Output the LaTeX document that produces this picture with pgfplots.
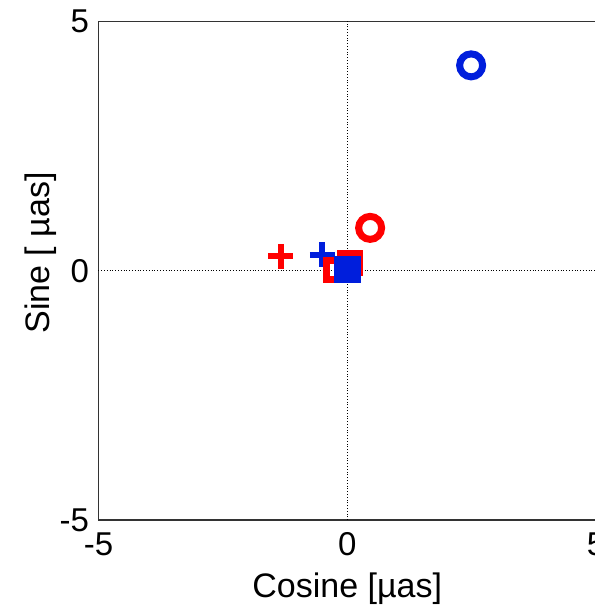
\documentclass[border=0pt]{standalone}
\usepackage{pgfplots}
\pgfplotsset{compat=1.18}
\usepackage{fontspec}
\setmainfont{Liberation Sans}
\definecolor{mblue}{RGB}{0,30,220}
\definecolor{mred}{RGB}{255,0,0}
\begin{document}
\begin{tikzpicture}
\begin{axis}[
 at={(0,0)}, anchor=south west,
 scale only axis, width=497.5pt, height=498.5pt,
 xmin=-5,xmax=5,ymin=-5,ymax=5,
 xtick={-5,0,5}, ytick={-5,0,5},
 major tick length=0pt,
 axis line style={line width=1.2pt, black!80},
 tick label style={font=\fontsize{33}{33}\selectfont},
 xticklabel style={yshift=-9pt},
 yticklabel style={xshift=-6pt},
 /pgf/number format/assume math mode=true,
 xlabel={Cosine [µas]}, ylabel={Sine [ µas]},
 label style={font=\fontsize{34}{34}\selectfont},
 xlabel style={at={(axis description cs:0.5,-0.1545)}, anchor=base},
 ylabel style={at={(axis description cs:-0.0975,0.5356)}, anchor=base, rotate=0},
 clip=false,
]
% red plus
\addplot[only marks, mark=+, mark size=12.5pt, mred, line width=6pt] coordinates {(-1.34,0.29)};
% blue plus
\addplot[only marks, mark=+, mark size=12.5pt, mblue, line width=6pt] coordinates {(-0.5,0.32)};
% red squares
\addplot[only marks, mark=square, mark size=9.5pt, mred, line width=7pt] coordinates {(-0.22,0.02) (0.05,0.15)};
% red circle
\addplot[only marks, mark=o, mark size=11.5pt, mred, line width=7pt] coordinates {(0.46,0.86)};
% blue circle
\addplot[only marks, mark=o, mark size=11.5pt, mblue, line width=7pt] coordinates {(2.49,4.12)};
% blue square
\addplot[only marks, mark=square*, mark size=13pt, mblue, line width=0pt] coordinates {(0.0,0.03)};
% zero lines
\addplot[black, dotted, line width=0.8pt] coordinates {(0,-5) (0,5)};
\addplot[black, dotted, line width=0.8pt] coordinates {(-5,0) (5,0)};
\end{axis}
\pgfresetboundingbox
\useasboundingbox (-98.5pt,-87pt) rectangle (495.5pt,520pt);
\end{tikzpicture}
\end{document}
